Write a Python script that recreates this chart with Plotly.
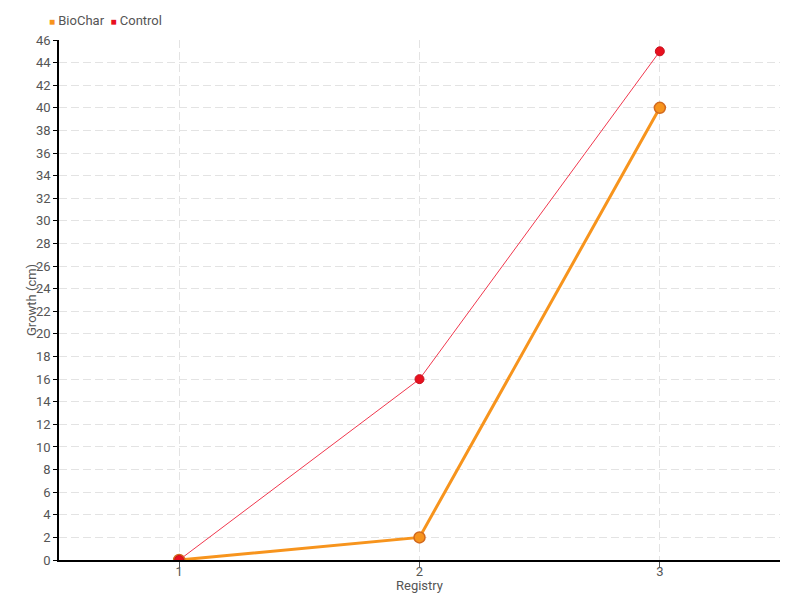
"""Growth per registry: BioChar vs Control."""

import plotly.graph_objects as go

registry = ["1", "2", "3"]
biochar_growth = [0, 2, 40]
control_growth = [0, 16, 45]

FONT = "Roboto, sans-serif"
GRID = "#e3e3e3"
ORANGE = "#f7941d"
RED = "#e8101e"
TEXT = "#555"

fig = go.Figure()

fig.add_trace(
    go.Scatter(
        x=registry, y=biochar_growth, mode="lines+markers", name="BioChar",
        line=dict(color=ORANGE, width=3),
        marker=dict(size=11, color=ORANGE, line=dict(color="#d2691e", width=1.5)),
    )
)
fig.add_trace(
    go.Scatter(
        x=registry, y=control_growth, mode="lines+markers", name="Control",
        line=dict(color="#f0384e", width=1),
        marker=dict(size=9, color=RED, line=dict(color="#c8101e", width=1)),
    )
)

# compact legend drawn as text, like the original chart
fig.add_annotation(
    xref="paper", yref="paper", x=0, y=1.0, xshift=-12, yshift=10,
    xanchor="left", yanchor="bottom", showarrow=False,
    text=(f"<span style='color:{ORANGE};font-size:10px'>■</span> BioChar  "
          f"<span style='color:{RED};font-size:10px'>■</span> Control"),
    font=dict(size=13, color=TEXT),
)
# axis titles, placed tight to the axes
fig.add_annotation(
    xref="paper", yref="paper", x=0.5, y=0, yshift=-16,
    xanchor="center", yanchor="top", showarrow=False,
    text="Registry", font=dict(size=13, color=TEXT),
)
fig.add_annotation(
    xref="paper", yref="paper", x=0, y=0.5, xshift=-28,
    xanchor="center", yanchor="middle", showarrow=False, textangle=-90,
    text="Growth (cm)", font=dict(size=13, color=TEXT),
)

# the page body adds an 8px margin, so the figure is shifted by that much
fig.update_layout(
    width=792, height=592,
    margin=dict(l=51, r=20, t=32, b=40, autoexpand=False),
    plot_bgcolor="white", paper_bgcolor="white",
    font=dict(family=FONT, size=13, color=TEXT),
    showlegend=False,
    xaxis=dict(
        type="category", range=[-0.5, 2.5], automargin=False,
        showgrid=True, gridcolor=GRID, griddash="8px,4px", gridwidth=1,
        showline=True, linecolor="black", linewidth=1.5,
        ticks="outside", ticklen=6, tickcolor=TEXT, ticklabelstandoff=-7,
        zeroline=False,
    ),
    yaxis=dict(
        range=[0, 46], dtick=2, tick0=0, automargin=False,
        showgrid=True, gridcolor=GRID, griddash="8px,4px", gridwidth=1,
        showline=True, linecolor="black", linewidth=1.5,
        ticks="outside", ticklen=4, tickcolor="black",
        zeroline=False,
    ),
)

fig.write_html("out.html")
